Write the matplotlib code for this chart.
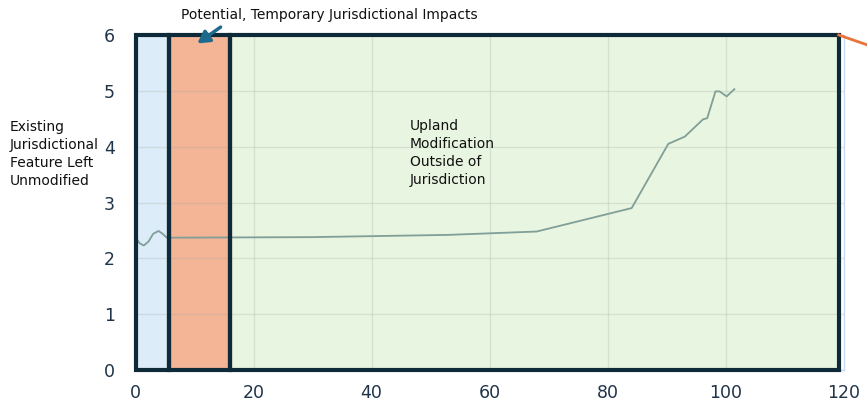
import matplotlib.pyplot as plt
from matplotlib.patches import Rectangle

# zone boundaries along x (blue / orange / green)
zone_edges = [0, 5.6, 16.0, 119.2]
zone_colors = ["#dcedf9", "#f4b597", "#e8f5e1"]

# profile line
line_x = [0, 0.7, 1.4, 2.2, 3.0, 3.9, 4.6, 5.3, 30, 53, 68, 84.1, 90.3, 93.1,
          96.2, 96.9, 98.3, 99.0, 100.2, 101.5]
line_y = [2.38, 2.27, 2.23, 2.30, 2.44, 2.49, 2.44, 2.37, 2.38, 2.42, 2.48, 2.90,
          4.05, 4.18, 4.49, 4.51, 4.99, 4.99, 4.90, 5.03]

x_ticks = [0, 20, 40, 60, 80, 100, 120]
y_ticks = [0, 1, 2, 3, 4, 5, 6]

DARK = "#0e2a38"
TICK = "#1f3349"

fig = plt.figure(figsize=(8.67, 4.07), dpi=100)
ax = fig.add_axes([0.1563, 0.0909, 0.8166, 0.8231])

for i, col in enumerate(zone_colors):
    ax.add_patch(Rectangle((zone_edges[i], 0), zone_edges[i + 1] - zone_edges[i], 6,
                           facecolor=col, edgecolor="none", zorder=0))
ax.grid(True, color="#9aa89e", alpha=0.25, lw=1, zorder=1)
ax.set_axisbelow(False)
for i in range(len(zone_colors)):
    ax.add_patch(Rectangle((zone_edges[i], 0), zone_edges[i + 1] - zone_edges[i], 6,
                           facecolor="none", edgecolor=DARK, lw=3, zorder=3,
                           clip_on=False))

ax.plot(line_x, line_y, color="#7f9f98", lw=1.3, zorder=2)

ax.set_xlim(0, 120)
ax.set_ylim(0, 6)
ax.set_xticks(x_ticks)
ax.set_yticks(y_ticks)
ax.tick_params(length=0, labelsize=12.5, labelcolor=TICK)
ax.tick_params(axis="x", pad=10)
ax.tick_params(axis="y", pad=15)
for s in ax.spines.values():
    s.set_color("#c9dcf2")
    s.set_linewidth(1)

# orange leader line leaving the top-right corner
ax.plot([119.2, 126], [6, 5.75], color="#e8743b", lw=2, clip_on=False, zorder=4)

ax.text(46.5, 4.5, "Upland\nModification\nOutside of\nJurisdiction",
        fontsize=10, va="top", ha="left", linespacing=1.37, color="#111111")
fig.text(10 / 867, 1 - 120 / 407, "Existing\nJurisdictional\nFeature Left\nUnmodified",
         fontsize=10, va="top", ha="left", linespacing=1.37, color="#111111")

ax.annotate("", xy=(10.1, 5.82), xytext=(14.8, 6.17),
            arrowprops=dict(arrowstyle="-|>,head_width=0.4,head_length=0.7",
                            color="#1e6a8c", lw=2.5),
            annotation_clip=False, zorder=5)
fig.text(329 / 867, 1 - 15 / 407, "Potential, Temporary Jurisdictional Impacts",
         fontsize=10, ha="center", va="center", color="#111111")

fig.savefig("out.png", dpi=100)
